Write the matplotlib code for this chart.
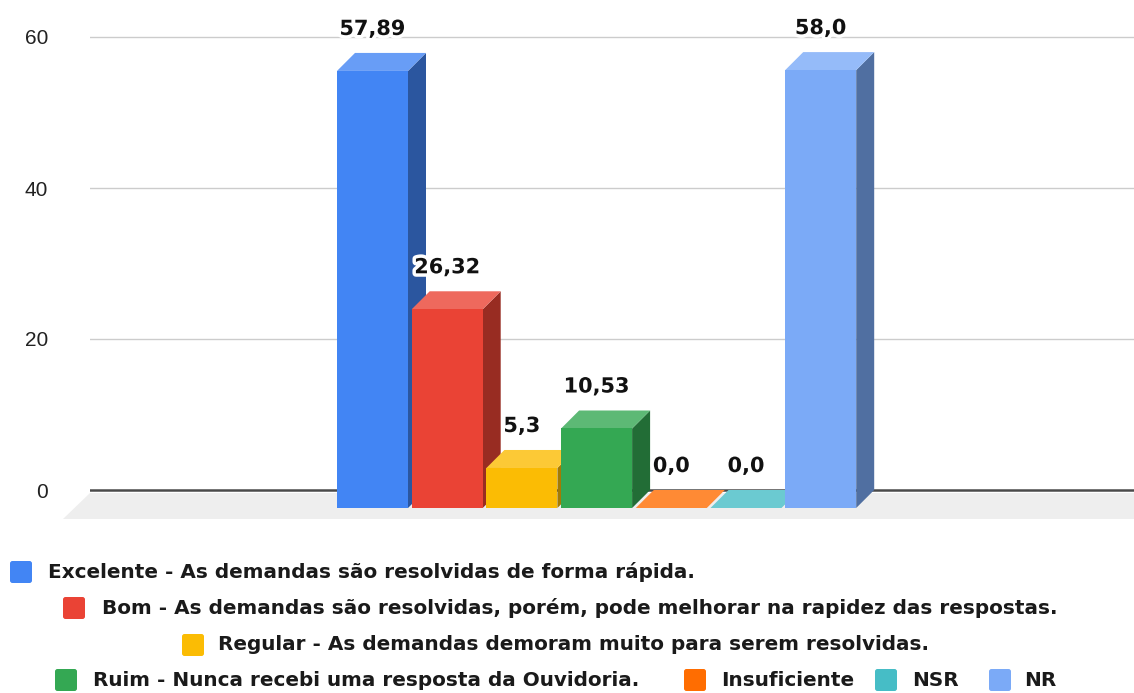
import matplotlib
matplotlib.use("Agg")
import matplotlib.pyplot as plt
import matplotlib.patheffects as pe
from matplotlib.colors import to_rgb
from matplotlib.patches import Polygon, Rectangle, FancyBboxPatch

plt.rcParams["font.family"] = ["Liberation Sans", "DejaVu Sans"]

categories = [
    "Excelente - As demandas são resolvidas de forma rápida.",
    "Bom - As demandas são resolvidas, porém, pode melhorar na rapidez das respostas.",
    "Regular - As demandas demoram muito para serem resolvidas.",
    "Ruim - Nunca recebi uma resposta da Ouvidoria.",
    "Insuficiente",
    "NSR",
    "NR",
]
values = [57.89, 26.32, 5.3, 10.53, 0.0, 0.0, 58.0]
value_labels = ["57,89", "26,32", "5,3", "10,53", "0,0", "0,0", "58,0"]
colors = ["#4285F4", "#EA4335", "#FBBC04", "#34A853", "#FF6D01", "#46BDC6", "#7BAAF7"]
yticks = [0, 20, 40, 60]

W, H = 1134, 693
fig = plt.figure(figsize=(W / 100, H / 100), dpi=100)

# plot area in pixels: x 90..1134, y 0..530 (from top)
px_unit_x = 74.7
px_unit_y = 7.55
x0_px = 372.5
ax = fig.add_axes([90 / W, (H - 530) / H, (W - 90) / W, 530 / H])
ax.set_xlim((90 - x0_px) / px_unit_x, (W - x0_px) / px_unit_x)
ax.set_ylim(-(530 - 490) / px_unit_y, 490 / px_unit_y)
for s in ax.spines.values():
    s.set_visible(False)
ax.set_xticks([])
ax.set_yticks(yticks)
ax.set_yticklabels([str(t) for t in yticks], fontsize=15, color="#222222")
ax.tick_params(axis="y", length=0, pad=30)
for t in yticks[1:]:
    ax.axhline(t, color="#cccccc", lw=1.0, zorder=1)

# 3d depth offsets
dx = 18 / px_unit_x
dy = 18 / px_unit_y
w = 71 / px_unit_x

# floor
xl, xr = ax.get_xlim()
fdx = 27 / px_unit_x
fdy = 29 / px_unit_y
floor = Polygon(
    [(xl, -3 / px_unit_y), (xr + 1, -3 / px_unit_y), (xr + 1 - fdx * 1.3, -fdy),
     (xl - fdx, -fdy)],
    closed=True, facecolor="#eeeeee", edgecolor="none", clip_on=False, zorder=1,
)
ax.add_patch(floor)
ax.axhline(0, color="#4a4a4a", lw=1.8, zorder=2)


def shade(c, f):
    r, g, b = to_rgb(c)
    if f >= 0:
        return (r + (1 - r) * f, g + (1 - g) * f, b + (1 - b) * f)
    return (r * (1 + f), g * (1 + f), b * (1 + f))


for i, (v, c) in enumerate(zip(values, colors)):
    xa, xb = i - w / 2, i + w / 2
    z = 3 + i
    side = Polygon([(xb, -dy), (xb + dx, 0), (xb + dx, v), (xb, v - dy)],
                   closed=True, facecolor=shade(c, -0.35), edgecolor="none", zorder=z)
    top = Polygon([(xa, v - dy), (xb, v - dy), (xb + dx, v), (xa + dx, v)],
                  closed=True, facecolor=shade(c, 0.2), edgecolor="none", zorder=z)
    front = Rectangle((xa, -dy), w, v, facecolor=c, edgecolor="none", zorder=z)
    ax.add_patch(side)
    ax.add_patch(top)
    ax.add_patch(front)

for i, (v, lab) in enumerate(zip(values, value_labels)):
    ax.text(i, v - dy + 42 / px_unit_y, lab, ha="center", va="center",
            fontsize=15, fontweight="bold", color="#111111", zorder=20,
            family="DejaVu Sans",
            path_effects=[pe.withStroke(linewidth=5, foreground="white")])

# legend overlay in pixel coordinates
lax = fig.add_axes([0, 0, 1, 1], facecolor="none")
lax.set_xlim(0, W)
lax.set_ylim(H, 0)
lax.axis("off")

legend_rows = [572, 608, 645, 680]
legend_pos = [
    (10, 48, 0), (63, 102, 1), (182, 218, 2),
    (55, 93, 3), (684, 721, 3), (875, 912, 3), (989, 1024, 3),
]
for (sq_x, tx, row), c, name in zip(legend_pos, colors, categories):
    yc = legend_rows[row]
    lax.add_patch(FancyBboxPatch((sq_x, yc - 11), 22, 22,
                                 boxstyle="round,pad=0,rounding_size=2.5",
                                 facecolor=c, edgecolor="none"))
    lax.text(tx, yc, name, ha="left", va="center", fontsize=14.4,
             fontweight="bold", color="#1a1a1a", family="DejaVu Sans")

fig.savefig("out.png", dpi=100)
